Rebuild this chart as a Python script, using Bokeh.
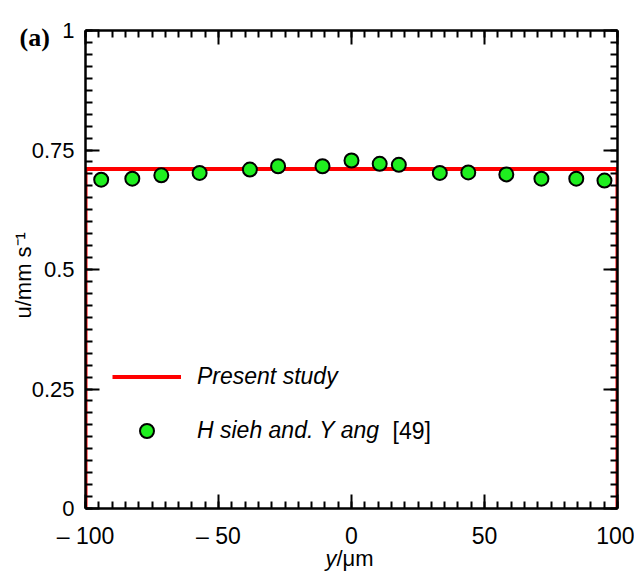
import math
from bokeh.plotting import figure
from bokeh.models import Range1d, FixedTicker, LinearAxis, Label, Legend, LegendItem
from bokeh.embed import file_html
from bokeh.resources import INLINE

# ---- data ----
present_y = [-100, -100, 100, 100]
present_u = [0.0, 0.71, 0.71, 0.0]

hsieh_y = [-94.1, -82.4, -71.5, -57.1, -38.2, -27.6, -10.9, 0.0,
           10.6, 17.8, 33.2, 43.9, 58.2, 71.4, 84.5, 95.1]
hsieh_u = [0.688, 0.690, 0.697, 0.702, 0.709, 0.716, 0.716, 0.728,
           0.721, 0.719, 0.702, 0.703, 0.699, 0.690, 0.690, 0.686]

x_ticks = [-100, -50, 0, 50, 100]
x_tick_labels = ["\u2013 100", "\u2013 50", "0", "50", "100"]
y_ticks = [0, 0.25, 0.5, 0.75, 1]
y_tick_labels = ["0", "0.25", "0.5", "0.75", "1"]
x_minor = list(range(-100, 101, 5))
y_minor = [round(i * 0.025, 3) for i in range(41)]

FONT = "Liberation Sans"
W, H = 634, 576
FL, FR, FT, FB = 85, 617, 30, 508   # frame edges on the page

p = figure(width=W, height=H, output_backend="svg", toolbar_location=None,
           x_range=Range1d(-100, 100), y_range=Range1d(0, 1),
           min_border_left=FL, min_border_right=W - FR,
           min_border_top=FT, min_border_bottom=H - FB)
p.grid.visible = False
p.outline_line_color = None
p.background_fill_color = "white"
p.border_fill_color = "white"

xt = FixedTicker(ticks=x_ticks, minor_ticks=x_minor)
yt = FixedTicker(ticks=y_ticks, minor_ticks=y_minor)

def style(ax, standoff=None, size="22px"):
    ax.axis_line_width = 2.5
    ax.axis_line_color = "black"
    ax.major_tick_in = 14
    ax.major_tick_out = 0
    ax.minor_tick_in = 7
    ax.minor_tick_out = 0
    ax.major_tick_line_width = 2
    ax.minor_tick_line_width = 2
    ax.major_tick_line_color = "black"
    ax.minor_tick_line_color = "black"
    if standoff is not None:
        ax.major_label_text_font = FONT
        ax.major_label_text_font_size = size
        ax.major_label_text_color = "black"
        ax.major_label_standoff = standoff
    else:
        ax.major_label_text_font_size = "0px"
        ax.major_label_text_color = None
        ax.major_label_standoff = 0

p.xaxis.ticker = xt
p.yaxis.ticker = yt
p.xaxis.major_label_overrides = {t: l for t, l in zip(x_ticks, x_tick_labels)}
p.yaxis.major_label_overrides = {t: l for t, l in zip(y_ticks, y_tick_labels)}
style(p.xaxis[0], 14, "23px")
style(p.yaxis[0], 11, "22px")

top = LinearAxis(ticker=xt)
right = LinearAxis(ticker=yt)
style(top)
style(right)
p.add_layout(top, "above")
p.add_layout(right, "right")

r_line = p.line(present_y, present_u, line_color="#ff0000", line_width=4)
r_pts = p.scatter(hsieh_y, hsieh_u, size=14, fill_color="#1fef1f",
                  line_color="black", line_width=2)

legend = Legend(items=[LegendItem(label="Present study", renderers=[r_line]),
                       LegendItem(label="H sieh and. Y ang", renderers=[r_pts])],
                location=(27, 60), glyph_width=69, glyph_height=35,
                label_height=35, spacing=19, padding=0, margin=0,
                label_standoff=16, border_line_color=None,
                background_fill_alpha=0,
                label_text_font=FONT, label_text_font_style="italic",
                label_text_font_size="23px", label_text_color="black")
p.add_layout(legend, "center")

# helpers: page pixel -> data coordinates (for annotation placement)
def dx(px):
    return (px - FL) / (FR - FL) * 200 - 100

def dy(py):
    return (FB - py) / (FB - FT)

def lab(text, px, py, place, size="22px", style="normal", font=FONT, angle=0,
        align="left", baseline="alphabetic"):
    p.add_layout(Label(x=dx(px), y=dy(py), text=text, text_font=font,
                       text_font_size=size, text_font_style=style,
                       angle=angle, text_align=align, text_baseline=baseline,
                       text_color="black"), place)

lab("[49]", 392, 430, "center", size="23px", baseline="middle")
lab("(a)", 19, 37, "above", size="26px", style="bold", font="Liberation Serif")
# x axis label
lab("y", 325, 558, "right", style="italic")
lab("/\u03bcm", 336, 558, "below")
# y axis label (rotated)
lab("u/mm s\u207b\u00b9", 23, 318, "left", angle=math.pi / 2)

open("out.html", "w").write(file_html(p, INLINE))
